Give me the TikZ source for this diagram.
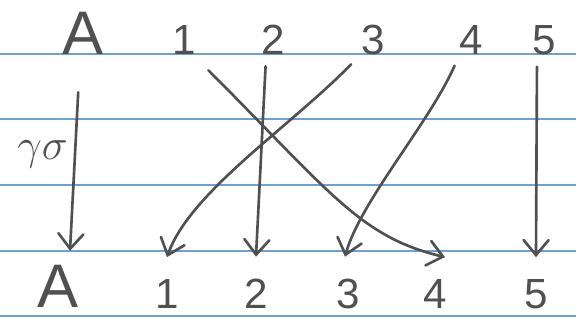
\documentclass[tikz,border=0pt]{standalone}
\usepackage{amsmath}
\usepackage{fontspec}
\setmainfont{Liberation Sans}
\usetikzlibrary{arrows.meta}
\definecolor{pencil}{RGB}{80,80,80}
\definecolor{ruling}{RGB}{110,160,210}

\begin{document}
\begin{tikzpicture}[x=0.02cm,y=0.02cm,
  lab/.style={anchor=base,inner sep=2pt,text=pencil,font=\fontsize{24}{24}\selectfont},
  big/.style={font=\fontsize{35}{35}\selectfont},
  arr/.style={pencil,line width=1.5pt,line cap=round,line join=round,shorten <=0.17cm,
    -{Straight Barb[length=0.3cm,width=0.5cm,line cap=round]}}]
  \useasboundingbox (0,0) rectangle (576,322);

  % ruled paper
  \foreach \y in {268,203,137,71,6}
    \draw[ruling,line width=1pt] (0,\y) -- (576,\y);

  % domain row
  \node[lab,big] (tA) at (83,268) {A};
  \node[lab] (t1) at (184,268) {1};
  \node[lab] (t2) at (273,268) {2};
  \node[lab] (t3) at (373,268) {3};
  \node[lab] (t4) at (471,268) {4};
  \node[lab] (t5) at (544,268) {5};

  % image row
  \node[lab,big] (bA) at (58,15) {A};
  \node[lab] (b1) at (167,14) {1};
  \node[lab] (b2) at (256,14) {2};
  \node[lab] (b3) at (348,14) {3};
  \node[lab] (b4) at (435,14) {4};
  \node[lab] (b5) at (536,14) {5};

  \draw[arr,shorten <=0.69cm] ([xshift=-0.06cm]tA.south) -- ([xshift=0.24cm,yshift=0.2cm]bA.north)
    node[midway,left=0cm,text=pencil,font=\fontsize{24}{24}\selectfont] (gs) {$\gamma\sigma$};
  \draw[arr,shorten <=0.35cm] ([xshift=0.24cm]t1.south) .. controls (330,130) and (360,85) .. ([xshift=0.2cm,yshift=0.36cm]b4.north);
  \draw[arr] ([xshift=-0.14cm]t2.south) -- ([yshift=0.36cm]b2.north);
  \draw[arr] ([xshift=-0.32cm]t3.south) .. controls (290,195) and (190,130) .. ([yshift=0.36cm]b1.north);
  \draw[arr] ([xshift=-0.26cm]t4.south) .. controls (430,200) and (360,120) .. ([xshift=-0.06cm,yshift=0.36cm]b3.north);
  \draw[arr] ([xshift=-0.14cm]t5.south) -- ([yshift=0.36cm]b5.north);
\end{tikzpicture}
\end{document}
